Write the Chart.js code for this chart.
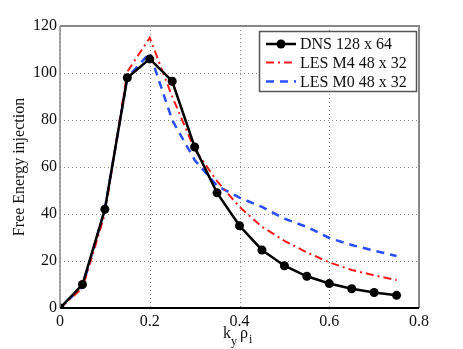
<!DOCTYPE html>
<html>
<head>
<meta charset="utf-8">
<script src="https://cdn.jsdelivr.net/npm/chart.js@4"></script>
<style>
  html, body { margin: 0; padding: 0; background: #fff; }
  #wrap { width: 463px; height: 349px; }
</style>
</head>
<body>
<div id="wrap"><canvas id="fe"></canvas></div>
<script>
var ky = [0, 0.05, 0.1, 0.15, 0.2, 0.25, 0.3, 0.35, 0.4, 0.45, 0.5, 0.55, 0.6, 0.65, 0.7, 0.75];
var dns = [0, 10, 42, 98, 106, 96.5, 68.5, 49, 35, 24.7, 18, 13.5, 10.4, 8.2, 6.6, 5.4];
var lesM4 = [0, 8.5, 40, 100.5, 115, 90, 67.5, 54, 43, 34.6, 28.6, 23.7, 19.4, 16.2, 13.9, 11.9];
var lesM0 = [0, 9, 42, 98, 108.5, 80, 63, 52, 47, 43, 38, 34.5, 29.8, 26.8, 24.4, 22.1];
var xTicks = [0, 0.2, 0.4, 0.6, 0.8];
var yTicks = [0, 20, 40, 60, 80, 100, 120];

var serif = '"Liberation Serif", "DejaVu Serif", serif';

function pts(ys) {
  return ys.map(function (v, i) { return { x: ky[i], y: v }; });
}

// dotted grid like matlab
var dotGrid = {
  id: 'dotGrid',
  beforeDatasetsDraw: function (chart) {
    var c = chart.ctx, a = chart.chartArea;
    var sx = chart.scales.x, sy = chart.scales.y;
    c.save();
    c.strokeStyle = '#888';
    c.lineWidth = 1;
    c.setLineDash([1, 3]);
    xTicks.forEach(function (v) {
      var px = Math.round(sx.getPixelForValue(v)) + 0.5;
      c.beginPath(); c.moveTo(px, a.top); c.lineTo(px, a.bottom); c.stroke();
    });
    yTicks.forEach(function (v) {
      var py = Math.round(sy.getPixelForValue(v)) + 0.5;
      c.beginPath(); c.moveTo(a.left, py); c.lineTo(a.right, py); c.stroke();
    });
    c.restore();
  }
};

// box, legend and axis titles drawn on top
var extras = {
  id: 'extras',
  afterDraw: function (chart) {
    var c = chart.ctx, a = chart.chartArea;
    c.save();
    c.strokeStyle = '#888';
    c.lineWidth = 2;
    c.beginPath();
    c.moveTo(a.left, a.top); c.lineTo(a.right, a.top); c.lineTo(a.right, a.bottom);
    c.stroke();
    c.lineWidth = 1.5;
    c.beginPath();
    c.moveTo(a.left, a.bottom); c.lineTo(a.left, a.top);
    c.stroke();
    c.strokeStyle = '#000';
    c.lineWidth = 2;
    c.beginPath();
    c.moveTo(a.left, a.bottom); c.lineTo(a.right, a.bottom);
    c.stroke();

    // legend
    var lx = 259.5, ly = 31.5, lw = 157, lh = 60;
    c.fillStyle = '#fff';
    c.fillRect(lx, ly, lw, lh);
    c.strokeStyle = '#555';
    c.lineWidth = 1.5;
    c.strokeRect(lx, ly, lw, lh);
    var rows = [44, 62.5, 81.5];
    c.font = '16px ' + serif;
    c.textBaseline = 'middle';
    chart.data.datasets.forEach(function (ds, i) {
      var y = rows[i];
      c.strokeStyle = ds.borderColor;
      c.lineWidth = ds.borderWidth;
      c.setLineDash(ds.borderDash || []);
      c.beginPath();
      c.moveTo(266, y); c.lineTo(296, y);
      c.stroke();
      c.setLineDash([]);
      if (ds.pointRadius) {
        c.fillStyle = ds.pointBackgroundColor;
        c.beginPath();
        c.arc(281, y, ds.pointRadius, 0, Math.PI * 2);
        c.fill();
      }
      c.fillStyle = '#111';
      c.textAlign = 'left';
      c.fillText(ds.label, 300, y + 1);
    });

    // y title
    c.fillStyle = '#111';
    c.font = '16px ' + serif;
    c.save();
    c.translate(20, 167);
    c.rotate(-Math.PI / 2);
    c.textAlign = 'center';
    c.textBaseline = 'middle';
    c.fillText('Free Energy injection', 0, 0);
    c.restore();

    // x title: k_y rho_i
    c.textAlign = 'left';
    c.textBaseline = 'alphabetic';
    c.font = '16px ' + serif;
    c.fillText('k', 223, 338);
    c.font = '12px ' + serif;
    c.fillText('y', 231, 345);
    c.font = '16px ' + serif;
    c.fillText('\u03c1', 240, 338);
    c.font = '12px ' + serif;
    c.fillText('i', 249, 343);
    c.restore();
  }
};

new Chart(document.getElementById('fe'), {
  type: 'line',
  data: {
    datasets: [{
      label: 'DNS 128 x 64',
      data: pts(dns),
      borderColor: '#000',
      borderWidth: 2.5,
      pointRadius: 4.5,
      pointBackgroundColor: '#000',
      pointBorderWidth: 0,
      order: 0
    }, {
      label: 'LES M4 48 x 32',
      data: pts(lesM4),
      borderColor: '#ff1a1a',
      borderWidth: 2,
      borderDash: [8, 4, 2, 4],
      pointRadius: 0,
      order: 1
    }, {
      label: 'LES M0 48 x 32',
      data: pts(lesM0),
      borderColor: '#2a4dff',
      borderWidth: 2.5,
      borderDash: [8, 6],
      pointRadius: 0,
      order: 2
    }]
  },
  options: {
    responsive: true,
    maintainAspectRatio: false,
    animation: false,
    layout: { padding: { top: 26, right: 44, left: 0, bottom: 0 } },
    plugins: { legend: { display: false }, tooltip: { enabled: false } },
    elements: { line: { tension: 0, fill: false } },
    scales: {
      x: {
        type: 'linear', min: 0, max: 0.8,
        afterFit: function (s) { s.height = 41; },
        afterBuildTicks: function (s) { s.ticks = xTicks.map(function (v) { return { value: v }; }); },
        grid: { display: false, drawTicks: false },
        border: { display: false },
        ticks: {
          padding: 4, color: '#111', maxRotation: 0,
          font: { family: serif, size: 16 },
          callback: function (v) { return v === 0 ? '0' : v.toFixed(1); }
        }
      },
      y: {
        min: 0, max: 120,
        afterFit: function (s) { s.width = 60; },
        afterBuildTicks: function (s) { s.ticks = yTicks.map(function (v) { return { value: v }; }); },
        grid: { display: false, drawTicks: false },
        border: { display: false },
        ticks: {
          padding: 3, color: '#111',
          font: { family: serif, size: 16 }
        }
      }
    }
  },
  plugins: [dotGrid, extras]
});
</script>
</body>
</html>
